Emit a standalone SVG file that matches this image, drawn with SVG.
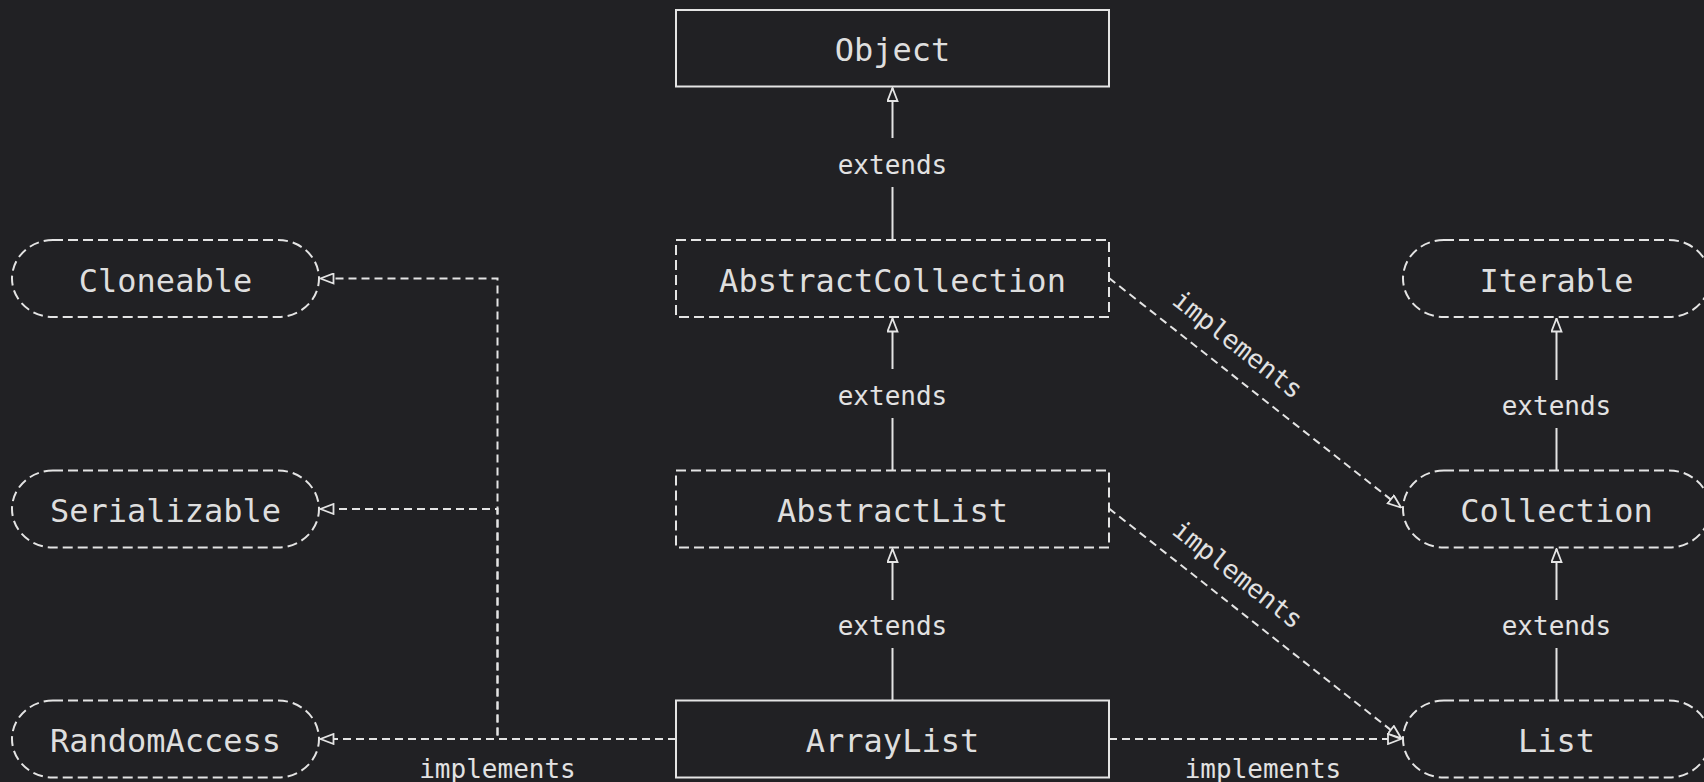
<svg xmlns="http://www.w3.org/2000/svg" width="1704" height="782" viewBox="0 0 1704 782">
<style>
.bg{fill:#212124}
.node{fill:none;stroke:#e4e4e4;stroke-width:2}
.dash{stroke-dasharray:10 5}
.ntext{font-family:"DejaVu Sans Mono","Liberation Mono",monospace;font-size:32px;fill:#dedede;text-anchor:middle}
.ltext{font-family:"DejaVu Sans Mono","Liberation Mono",monospace;font-size:26px;fill:#e2e2e2;text-anchor:middle}
.edge{fill:none;stroke:#e4e4e4;stroke-width:2}
.edash{stroke-dasharray:8 5}
</style>
<defs>
<marker id="tri" viewBox="0 0 15 12" refX="14" refY="6" markerWidth="15" markerHeight="12" markerUnits="userSpaceOnUse" orient="auto">
<path d="M1,1 L14,6 L1,11 Z" fill="#212124" stroke="#e4e4e4" stroke-width="1.8" stroke-linejoin="miter"/>
</marker>
</defs>
<rect class="bg" x="0" y="0" width="1704" height="782"/>

<g id="connectors">
<path class="edge" d="M892.5,240 V187"/>
<path class="edge" d="M892.5,138 V88" marker-end="url(#tri)"/>
<text class="ltext" x="892.5" y="174">extends</text>

<path class="edge" d="M892.5,470 V418"/>
<path class="edge" d="M892.5,369 V318.5" marker-end="url(#tri)"/>
<text class="ltext" x="892.5" y="405">extends</text>

<path class="edge" d="M892.5,700 V648"/>
<path class="edge" d="M892.5,600 V549" marker-end="url(#tri)"/>
<text class="ltext" x="892.5" y="635">extends</text>

<path class="edge" d="M1556.5,470 V428"/>
<path class="edge" d="M1556.5,380 V318.5" marker-end="url(#tri)"/>
<text class="ltext" x="1556.5" y="415">extends</text>

<path class="edge" d="M1556.5,700 V648"/>
<path class="edge" d="M1556.5,600 V549" marker-end="url(#tri)"/>
<text class="ltext" x="1556.5" y="635">extends</text>

<path class="edge edash" d="M1109,278 L1401,507.5" marker-end="url(#tri)"/>
<text class="ltext" transform="translate(1236.5,346) rotate(38.2)" x="0" y="7">implements</text>

<path class="edge edash" d="M1109,508.5 L1401,738" marker-end="url(#tri)"/>
<text class="ltext" transform="translate(1236.5,576) rotate(38.2)" x="0" y="7">implements</text>

<path class="edge edash" d="M1109,739 H1401" marker-end="url(#tri)"/>
<text class="ltext" x="1263" y="778">implements</text>

<path class="edge edash" d="M676,739 H320.5" marker-end="url(#tri)"/>
<path class="edge edash" d="M676,739 H497.5 V509 H320.5" marker-end="url(#tri)"/>
<path class="edge edash" d="M676,739 H497.5 V278.5 H320.5" marker-end="url(#tri)"/>
<text class="ltext" x="497.5" y="778">implements</text>
</g>

<g id="Object">
<rect class="node" x="676" y="10" width="433" height="76.5"/>
<text class="ntext" x="892.5" y="61">Object</text>
</g>
<g id="AbstractCollection">
<rect class="node dash" x="676" y="240" width="433" height="77"/>
<text class="ntext" x="892.5" y="291.5">AbstractCollection</text>
</g>
<g id="AbstractList">
<rect class="node dash" x="676" y="470.5" width="433" height="77"/>
<text class="ntext" x="892.5" y="522">AbstractList</text>
</g>
<g id="ArrayList">
<rect class="node" x="676" y="700.5" width="433" height="77"/>
<text class="ntext" x="892.5" y="752">ArrayList</text>
</g>

<g id="Cloneable">
<rect class="node dash" x="12" y="240" width="307" height="77" rx="41" ry="38.5"/>
<text class="ntext" x="165.5" y="291.5">Cloneable</text>
</g>
<g id="Serializable">
<rect class="node dash" x="12" y="470.5" width="307" height="77" rx="41" ry="38.5"/>
<text class="ntext" x="165.5" y="522">Serializable</text>
</g>
<g id="RandomAccess">
<rect class="node dash" x="12" y="700.5" width="307" height="77" rx="41" ry="38.5"/>
<text class="ntext" x="165.5" y="752">RandomAccess</text>
</g>

<g id="Iterable">
<rect class="node dash" x="1403" y="240" width="307" height="77" rx="41" ry="38.5"/>
<text class="ntext" x="1556.5" y="291.5">Iterable</text>
</g>
<g id="Collection">
<rect class="node dash" x="1403" y="470.5" width="307" height="77" rx="41" ry="38.5"/>
<text class="ntext" x="1556.5" y="522">Collection</text>
</g>
<g id="List">
<rect class="node dash" x="1403" y="700.5" width="307" height="77" rx="41" ry="38.5"/>
<text class="ntext" x="1556.5" y="752">List</text>
</g>
</svg>
